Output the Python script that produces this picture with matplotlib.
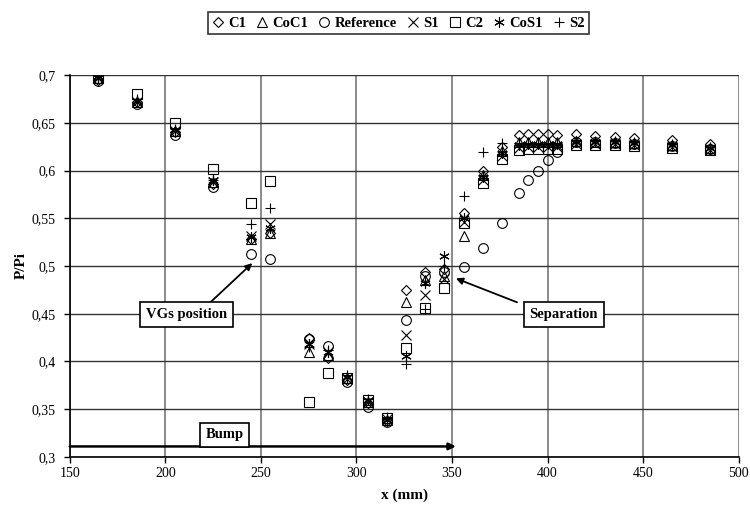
import matplotlib.pyplot as plt
from matplotlib.ticker import FuncFormatter

plt.rcParams['font.family'] = ['Liberation Serif', 'DejaVu Serif']

x = [165, 185, 205, 225, 245, 255, 275, 285, 295, 306, 316, 326, 336, 346,
     356, 366, 376, 385, 390, 395, 400, 405, 415, 425, 435, 445, 465, 485]

c1 = [0.695, 0.672, 0.640, 0.586, 0.528, 0.535, 0.425, 0.404, 0.381, 0.356,
      0.338, 0.475, 0.494, 0.497, 0.555, 0.600, 0.625, 0.637, 0.638, 0.638,
      0.638, 0.637, 0.638, 0.636, 0.635, 0.634, 0.632, 0.628]
coc1 = [0.697, 0.672, 0.641, 0.588, 0.528, 0.535, 0.410, 0.407, 0.383, 0.358,
        0.339, 0.462, 0.485, 0.490, 0.531, 0.595, 0.620, 0.630, 0.630, 0.630,
        0.630, 0.630, 0.631, 0.630, 0.630, 0.629, 0.627, 0.624]
reference = [0.694, 0.670, 0.637, 0.583, 0.513, 0.507, 0.424, 0.416, 0.378,
             0.352, 0.337, 0.443, 0.490, 0.494, 0.499, 0.519, 0.545, 0.576,
             0.590, 0.600, 0.611, 0.619, 0.630, 0.630, 0.629, 0.628, 0.626,
             0.623]
s1 = [0.697, 0.672, 0.641, 0.588, 0.531, 0.544, 0.418, 0.410, 0.382, 0.358,
      0.340, 0.428, 0.470, 0.486, 0.546, 0.590, 0.615, 0.624, 0.625, 0.625,
      0.625, 0.625, 0.628, 0.628, 0.628, 0.627, 0.625, 0.622]
c2 = [0.697, 0.680, 0.650, 0.602, 0.566, 0.589, 0.358, 0.388, 0.383, 0.360,
      0.341, 0.414, 0.456, 0.477, 0.545, 0.587, 0.612, 0.622, 0.623, 0.623,
      0.623, 0.623, 0.627, 0.627, 0.627, 0.626, 0.624, 0.621]
cos1 = [0.697, 0.673, 0.642, 0.590, 0.530, 0.540, 0.418, 0.410, 0.384, 0.360,
        0.339, 0.406, 0.482, 0.510, 0.550, 0.593, 0.618, 0.627, 0.628, 0.628,
        0.628, 0.628, 0.630, 0.630, 0.630, 0.629, 0.627, 0.624]
s2 = [0.699, 0.675, 0.643, 0.590, 0.544, 0.561, 0.415, 0.412, 0.386, 0.361,
      0.342, 0.397, 0.455, 0.500, 0.573, 0.619, 0.629, 0.629, 0.629, 0.629,
      0.629, 0.629, 0.631, 0.631, 0.631, 0.630, 0.628, 0.625]

series = [
    ('C1', c1, 'D', 5),
    ('CoC1', coc1, '^', 6.5),
    ('Reference', reference, 'o', 7),
    ('S1', s1, 'x', 6.5),
    ('C2', c2, 's', 7),
    ('CoS1', cos1, (6, 2, 0), 7.5),
    ('S2', s2, '+', 7.5),
]

fig = plt.figure(figsize=(7.5, 5.14), dpi=100, facecolor='white')
ax = fig.add_axes([0.093, 0.111, 0.892, 0.743])

handles = []
for name, vals, mk, ms in series:
    h, = ax.plot(x, vals, linestyle='none', marker=mk, markersize=ms,
                 markerfacecolor='none', markeredgecolor='black',
                 markeredgewidth=0.8, color='black', label=name, zorder=3)
    handles.append(h)

ax.set_xlim(150, 500)
ax.set_ylim(0.3, 0.7)
ax.set_xticks(range(150, 501, 50))
ax.set_yticks([0.3, 0.35, 0.4, 0.45, 0.5, 0.55, 0.6, 0.65, 0.7])
ax.yaxis.set_major_formatter(FuncFormatter(lambda v, p: ('%g' % v).replace('.', ',')))
ax.tick_params(direction='out', length=4, width=1, labelsize=10, colors='black')
ax.tick_params(axis='y', pad=6)

ax.yaxis.grid(True, color='#333333', linewidth=1.0)
ax.xaxis.grid(True, color='#777777', linewidth=1.2)
ax.set_axisbelow(True)
for side in ['top', 'right']:
    ax.spines[side].set_visible(False)
ax.spines['left'].set_linewidth(1.2)
ax.spines['bottom'].set_linewidth(1.2)

ax.set_xlabel('x (mm)', fontsize=11, fontweight='bold', labelpad=6)
ax.set_ylabel('P/Pi', fontsize=11, fontweight='bold', labelpad=3)

box = dict(boxstyle='square,pad=0.4', facecolor='white', edgecolor='black', linewidth=1.2)
arrow = dict(arrowstyle='-|>', color='black', lw=1.3, mutation_scale=10,
             shrinkA=0, shrinkB=0)

ax.annotate('', xy=(245.5, 0.503), xytext=(222, 0.459), arrowprops=arrow)
ax.text(211, 0.449, 'VGs position', ha='center', va='center', fontsize=10.5,
        fontweight='bold', bbox=box, zorder=5)

ax.annotate('', xy=(352, 0.487), xytext=(384, 0.462), arrowprops=arrow)
ax.text(408.5, 0.449, 'Separation', ha='center', va='center', fontsize=10.5,
        fontweight='bold', bbox=box, zorder=5)

ax.annotate('', xy=(352, 0.311), xytext=(150, 0.311),
            arrowprops=dict(arrowstyle='-|>', color='black', lw=1.8,
                            mutation_scale=10, shrinkA=0, shrinkB=0))
ax.text(231, 0.323, 'Bump', ha='center', va='center', fontsize=10.5,
        fontweight='bold', bbox=box, zorder=5)

leg = fig.legend(handles=handles, loc='upper center', bbox_to_anchor=(0.531, 0.99),
                 ncol=7, frameon=True, fancybox=False, handlelength=0.8,
                 handletextpad=0.3, columnspacing=0.7, borderpad=0.3,
                 prop={'weight': 'bold', 'size': 10.5})
leg.get_frame().set_edgecolor('black')
leg.get_frame().set_linewidth(1.2)

fig.savefig('out.png', dpi=100, facecolor='white')
